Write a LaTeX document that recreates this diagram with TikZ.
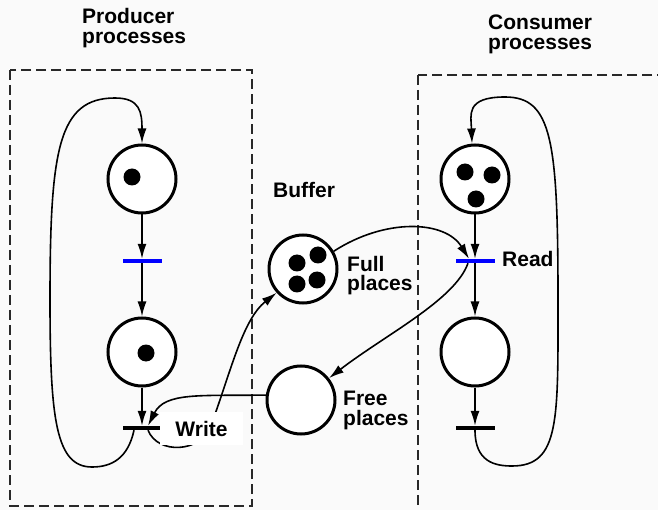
\documentclass[tikz,border=0pt]{standalone}
\usepackage{fontspec}
\setmainfont{Liberation Sans}
\usetikzlibrary{arrows.meta,positioning}
\definecolor{PaperGray}{RGB}{250,250,250}
\definecolor{FrameGray}{RGB}{40,40,40}

\begin{document}
\begin{tikzpicture}[x=1pt,y=-1pt,>={Latex[length=15pt,width=9pt]},
  place/.style={draw,circle,line width=3pt,fill=white,minimum size=68pt,inner sep=0pt},
  trans/.style={rectangle,inner sep=0pt,minimum width=39pt,minimum height=4pt,fill=#1},
  arc/.style={->,line width=1.6pt},
  label/.style={inner sep=0pt,align=left,font=\fontsize{21}{20}\selectfont\bfseries},
  frame/.style={draw=FrameGray,line width=1.4pt,dash pattern=on 10pt off 5pt}]
\fill[PaperGray] (0,0) rectangle (658,510);
\clip (0,0) rectangle (658,510);
% process frames
\draw[frame] (10,70) rectangle (252,506);
\draw[frame] (418,75) rectangle (680,530);
\node[label,anchor=base west] (prodlbl) at (82,44) {Producer\\processes};
\node[label,anchor=base west] (conslbl) at (488,50) {Consumer\\processes};
% producer net
\node[place] (p1) at (142,179) {};
\node[trans=blue] (t1) at (142,261) {};
\node[place] (p2) at (142,352) {};
\node[trans=black] (wr) at (142,428) {};
\fill (132,177) circle (8.5);
\fill (146,353) circle (8.5);
% buffer
\node[label,anchor=base west] (buflbl) at (273,198) {Buffer};
\node[place] (full) at (303,269) {};
\node[place] (free) at (301,400) {};
\node[label,anchor=base west] (fulllbl) at (347,291) {Full\\places};
\node[label,anchor=base west] (freelbl) at (343,425) {Free\\places};
\foreach \tx/\ty in {297/263,318/255,297/284,317/280} \fill (\tx,\ty) circle (8.5);
% consumer net
\node[place] (c1) at (475,179) {};
\node[trans=blue] (rd) at (475,261) {};
\node[place] (c2) at (475,352) {};
\node[trans=black] (ct) at (475,428) {};
\node[label,anchor=base west] (rdlbl) at (502,267) {Read};
\foreach \tx/\ty in {465/172,492/175,476/199} \fill (\tx,\ty) circle (8.5);
% arcs
\draw[arc] (p1)--(t1);\draw[arc] (t1)--(p2);\draw[arc] (p2)--(wr);
\draw[arc] (c1)--(rd);\draw[arc] (rd)--(c2);\draw[arc] (c2)--(ct);
\draw[arc] ([xshift=-8pt]wr.south) .. controls (128,458) and (112,467) .. (92,467) .. controls (56,467) and (50,420) .. (50,300) .. controls (50,150) and (58,98) .. (115,98) .. controls (140,98) and (142,112) .. (p1.north);
\draw[arc] (ct.south) .. controls (475,462) and (495,466) .. (512,466) .. controls (560,466) and (558,420) .. (558,300) .. controls (558,140) and (552,97) .. (505,97) .. controls (465,97) and (471,115) .. ([xshift=-3pt]c1.north);
\draw[arc] (full.30) .. controls (385,218) and (445,220) .. ([xshift=-6pt]rd.north);
\draw[arc] ([xshift=-7pt]rd.south) .. controls (455,300) and (385,335) .. (free.38);
\draw[arc] (free.172) .. controls (200,396) and (165,392) .. ([xshift=6pt]wr.north);
\draw[arc] ([xshift=6pt]wr.south) .. controls (158,455) and (200,452) .. (210,428) .. controls (230,375) and (242,320) .. (full.222);
\node[label,fill=white,minimum width=83pt,minimum height=33pt,inner sep=0pt] (wrlbl) at (201.5,428.5) {Write};
\end{tikzpicture}
\end{document}
